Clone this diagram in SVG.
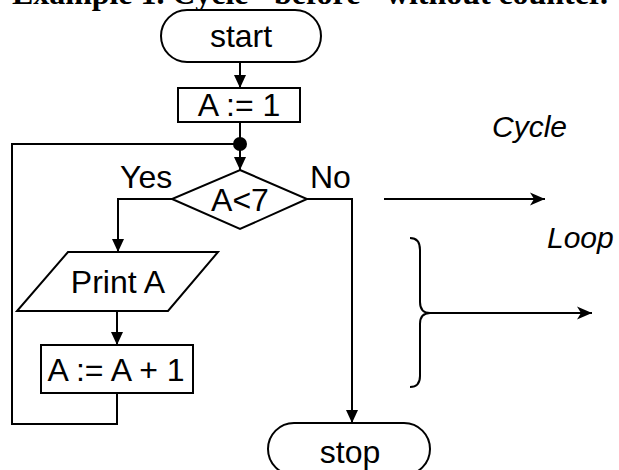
<svg xmlns="http://www.w3.org/2000/svg" width="619" height="470" viewBox="0 0 619 470">
<defs>
<style>
.s{fill:none;stroke:#000;stroke-width:2}
.n{fill:#fff;stroke:#000;stroke-width:2}
.t{font-family:"Liberation Sans",Arial,sans-serif;font-size:32px;fill:#000}
.c{text-anchor:middle}
.i{font-style:italic;font-size:30px}
</style>
<marker id="ad" markerWidth="14" markerHeight="14" refX="13" refY="7" orient="auto" markerUnits="userSpaceOnUse">
<path d="M0,1 L13,7 L0,13 Z" fill="#000"/>
</marker>
<marker id="ab" markerWidth="16" markerHeight="14" refX="15" refY="7" orient="auto" markerUnits="userSpaceOnUse">
<path d="M0,0.5 L15,7 L0,13.5 L4,7 Z" fill="#000"/>
</marker>
</defs>
<rect width="619" height="470" fill="#fff"/>
<text x="12" y="4" font-family="'Liberation Serif','Times New Roman',serif" font-weight="bold" font-size="32" textLength="596" lengthAdjust="spacing">Example 1. Cycle "before" without counter.</text>
<g id="connectors">
<line class="s" x1="240" y1="62" x2="240" y2="88" marker-end="url(#ad)"/>
<line class="s" x1="240" y1="122" x2="240" y2="144"/>
<line class="s" x1="240" y1="144" x2="240" y2="170" marker-end="url(#ad)"/>
<polyline class="s" points="172,199 118,199 118,252" marker-end="url(#ad)"/>
<line class="s" x1="117" y1="311" x2="117" y2="345" marker-end="url(#ad)"/>
<polyline class="s" points="117,393 117,424 12,424 12,144 240,144"/>
<polyline class="s" points="307,199 352,199 352,423" marker-end="url(#ad)"/>
<circle cx="240" cy="144" r="7" fill="#000"/>
</g>
<g id="start"><rect class="n" x="161" y="10" width="160" height="52" rx="26"/><text class="t c" x="241" y="47">start</text></g>
<g id="init"><rect class="n" x="178" y="88" width="122" height="34"/><text class="t c" x="239" y="116">A := 1</text></g>
<g id="cond"><polygon class="n" points="240,170 307,199 240,229 172,199"/><text class="t c" x="240" y="211">A&lt;7</text></g>
<g id="lbl-yes"><text class="t" x="120" y="188">Yes</text></g>
<g id="lbl-no"><text class="t" x="310" y="188">No</text></g>
<g id="print"><polygon class="n" points="68,252 218,252 168,311 17,311"/><text class="t c" x="118" y="293">Print A</text></g>
<g id="inc"><rect class="n" x="41" y="345" width="152" height="48"/><text class="t c" x="116" y="381">A := A + 1</text></g>
<g id="stop"><rect class="n" x="268" y="423" width="162" height="52" rx="26"/><text class="t c" x="350" y="463">stop</text></g>
<g id="legend">
<text class="t i" x="492" y="137">Cycle</text>
<line class="s" x1="384" y1="199" x2="545" y2="199" marker-end="url(#ab)"/>
<text class="t i" x="547" y="248">Loop</text>
<path class="s" d="M410,238 Q420,238 420,250 L420,302 Q420,313 430,313 Q420,313 420,324 L420,376 Q420,387 410,387"/>
<line class="s" x1="430" y1="313" x2="592" y2="313" marker-end="url(#ab)"/>
</g>
</svg>
